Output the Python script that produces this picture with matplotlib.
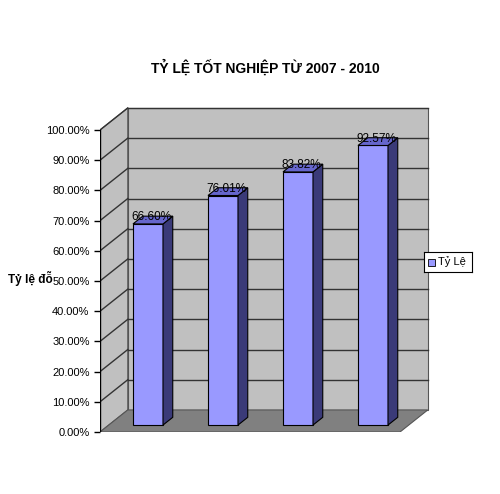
import matplotlib
matplotlib.use("Agg")
import matplotlib.pyplot as plt
from matplotlib.patches import Polygon, Rectangle

categories = ["2007", "2008", "2009", "2010"]
values = [66.60, 76.01, 83.82, 92.57]
labels = ["66.60%", "76.01%", "83.82%", "92.57%"]
yticks = list(range(0, 101, 10))

W, H = 500, 494
fig = plt.figure(figsize=(W/100, H/100), dpi=100)
ax = fig.add_axes([100/W, 62/H, 335/W, 332/H])
ax.set_xlim(0, 335/75)
ax.set_ylim(0, 332/302*100)
dx, dy = 0.37, 7.3
n = len(values)

# walls
ax.add_patch(Polygon([(dx, dy), (n+dx, dy), (n+dx, 100+dy), (dx, 100+dy)], closed=True,
                     fc="#c0c0c0", ec="#555555", lw=0.8, zorder=1))
ax.add_patch(Polygon([(0, 0), (dx, dy), (dx, 100+dy), (0, 100)], closed=True,
                     fc="#c0c0c0", ec="#555555", lw=0.8, zorder=1))
ax.add_patch(Polygon([(0, 0), (n, 0), (n+dx, dy), (dx, dy)], closed=True,
                     fc="#808080", ec="#555555", lw=0.8, zorder=2))
for t in yticks[1:]:
    ax.plot([dx, n+dx], [t+dy, t+dy], color="#333333", lw=1, zorder=1.5)
    ax.plot([0, dx], [t, t+dy], color="#333333", lw=1, zorder=1.5)
ax.plot([0, 0], [0, 100], color="black", lw=1, zorder=3)

bw, bd = 0.4, 0.13
bdy = bd/dx*dy
ox, oy = 0.02, 2.3  # bars sit part-way into the depth
for i, v in enumerate(values):
    x0 = i + 0.42 + ox
    b, t = oy, v + oy
    ax.add_patch(Rectangle((x0, b), bw, v, fc="#9999ff", ec="black", lw=0.8, zorder=4))
    ax.add_patch(Polygon([(x0+bw, b), (x0+bw+bd, b+bdy), (x0+bw+bd, t+bdy), (x0+bw, t)],
                         closed=True, fc="#3a3a78", ec="black", lw=0.8, zorder=4))
    ax.add_patch(Polygon([(x0, t), (x0+bw, t), (x0+bw+bd, t+bdy), (x0+bd, t+bdy)],
                         closed=True, fc="#6666cc", ec="black", lw=0.8, zorder=4))
    ax.text(x0+bw/2+0.05, t+0.3, labels[i], ha="center", va="bottom", fontsize=8.5,
            family="Liberation Sans", zorder=5)

ax.set_yticks(yticks)
ax.set_yticklabels([f"{t:.2f}%" for t in yticks], family="Liberation Sans", fontsize=8)
ax.set_xticks([])
for s in ax.spines.values():
    s.set_visible(False)
ax.tick_params(axis="y", length=4, width=1)

fig.text(265/W, 1-68/H, "TỶ LỆ TỐT NGHIỆP TỪ 2007 - 2010", ha="center", va="center",
         fontsize=10, fontweight="bold", family="Liberation Sans")
fig.text(30/W, 1-279/H, "Tỷ lệ đỗ", ha="center", va="center", fontsize=8.5,
         fontweight="bold", family="Liberation Sans")

# legend
lax = fig.add_axes([424/W, 1-272/H, 48/W, 20/H])
lax.set_xlim(0, 48); lax.set_ylim(0, 20)
lax.set_xticks([]); lax.set_yticks([])
for s in lax.spines.values():
    s.set_color("black"); s.set_linewidth(0.8)
lax.add_patch(Rectangle((4, 6), 7, 7, fc="#9999ff", ec="black", lw=0.6))
lax.text(14, 10, "Tỷ Lệ", va="center", fontsize=8, family="Liberation Sans")

fig.savefig("out.png", dpi=100)
